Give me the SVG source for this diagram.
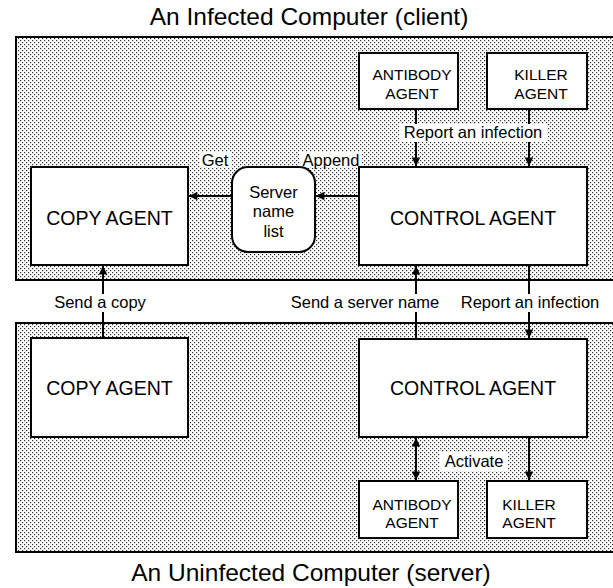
<svg xmlns="http://www.w3.org/2000/svg" width="613" height="588" viewBox="0 0 613 588">
<style>
text{font-family:"Liberation Sans",Arial,sans-serif;fill:#000;text-anchor:middle}
.title{font-size:24.5px}
.big{font-size:19.5px}
.mid{font-size:16.5px}
.sm{font-size:15.5px}
.panel{fill:url(#dots);stroke:#000;stroke-width:2}
.box{fill:#fff;stroke:#000;stroke-width:2}
.lbg{fill:#fff;stroke:none}
.ln{stroke:#000;stroke-width:2;fill:none}
</style>
<defs>
<pattern id="dots" width="4" height="4" patternUnits="userSpaceOnUse">
<rect width="4" height="4" fill="#fff"/>
<rect x="0" y="0" width="1.2" height="1.2" fill="#333"/>
<rect x="2" y="2" width="1.2" height="1.2" fill="#333"/>
</pattern>
<marker id="ah" viewBox="0 0 10 10" refX="10" refY="5" markerWidth="5" markerHeight="4.2" orient="auto-start-reverse" markerUnits="strokeWidth">
<path d="M0,0 L10,5 L0,10 z" fill="#000"/>
</marker>
</defs>

<g id="titles">
<text class="title" x="309" y="25">An Infected Computer (client)</text>
<text class="title" x="311" y="581">An Uninfected Computer (server)</text>
</g>

<g id="client-panel"><rect class="panel" x="16" y="37" width="610" height="243"/></g>
<g id="server-panel"><rect class="panel" x="16" y="323" width="610" height="229"/></g>

<g id="connectors">
<line class="ln" x1="359" y1="196" x2="316" y2="196" marker-end="url(#ah)"/>
<line class="ln" x1="232" y1="196" x2="189" y2="196" marker-end="url(#ah)"/>
<line class="ln" x1="416" y1="109" x2="416" y2="166" marker-end="url(#ah)"/>
<line class="ln" x1="529" y1="109" x2="529" y2="166" marker-end="url(#ah)"/>
<line class="ln" x1="103" y1="338" x2="103" y2="266" marker-end="url(#ah)"/>
<line class="ln" x1="416" y1="339" x2="416" y2="266" marker-end="url(#ah)"/>
<line class="ln" x1="529" y1="265" x2="529" y2="338" marker-end="url(#ah)"/>
<line class="ln" x1="416" y1="438" x2="416" y2="480" marker-start="url(#ah)" marker-end="url(#ah)"/>
<line class="ln" x1="529" y1="437" x2="529" y2="480" marker-end="url(#ah)"/>
</g>

<g id="labels">
<rect class="lbg" x="399" y="124" width="148" height="18"/>
<text class="mid" x="473" y="138">Report an infection</text>
<rect class="lbg" x="200" y="152" width="31" height="15"/>
<text class="mid" x="215" y="166">Get</text>
<rect class="lbg" x="300" y="152" width="61" height="15"/>
<text class="mid" x="331" y="166">Append</text>
<rect class="lbg" x="46" y="294" width="108" height="18"/>
<text class="mid" x="100" y="308">Send a copy</text>
<rect class="lbg" x="286" y="294" width="158" height="18"/>
<text class="mid" x="365" y="308">Send a server name</text>
<rect class="lbg" x="457" y="294" width="146" height="18"/>
<text class="mid" x="530" y="308">Report an infection</text>
<rect class="lbg" x="440" y="452" width="68" height="19"/>
<text class="mid" x="474" y="467">Activate</text>
</g>

<g id="client-antibody"><rect class="box" x="359" y="53" width="99" height="56"/>
<text class="sm" x="412" y="80">ANTIBODY</text><text class="sm" x="412" y="99">AGENT</text></g>
<g id="client-killer"><rect class="box" x="487" y="53" width="100" height="56"/>
<text class="sm" x="541" y="80">KILLER</text><text class="sm" x="541" y="99">AGENT</text></g>
<g id="client-copy"><rect class="box" x="31" y="167" width="157" height="98"/>
<text class="big" x="109.5" y="225">COPY AGENT</text></g>
<g id="client-serverlist"><rect class="box" x="232" y="167" width="83" height="85" rx="16" ry="16"/>
<text class="mid" x="273.5" y="198">Server</text><text class="mid" x="273.5" y="217">name</text><text class="mid" x="273.5" y="237">list</text></g>
<g id="client-control"><rect class="box" x="359" y="167" width="228" height="98"/>
<text class="big" x="473" y="225">CONTROL AGENT</text></g>

<g id="server-copy"><rect class="box" x="31" y="338" width="157" height="99"/>
<text class="big" x="109.5" y="395">COPY AGENT</text></g>
<g id="server-control"><rect class="box" x="359" y="339" width="228" height="98"/>
<text class="big" x="473" y="395">CONTROL AGENT</text></g>
<g id="server-antibody"><rect class="box" x="359" y="481" width="99" height="57"/>
<text class="sm" x="412" y="510">ANTIBODY</text><text class="sm" x="412" y="528">AGENT</text></g>
<g id="server-killer"><rect class="box" x="487" y="481" width="100" height="57"/>
<text class="sm" x="529" y="510">KILLER</text><text class="sm" x="529" y="528">AGENT</text></g>
</svg>
